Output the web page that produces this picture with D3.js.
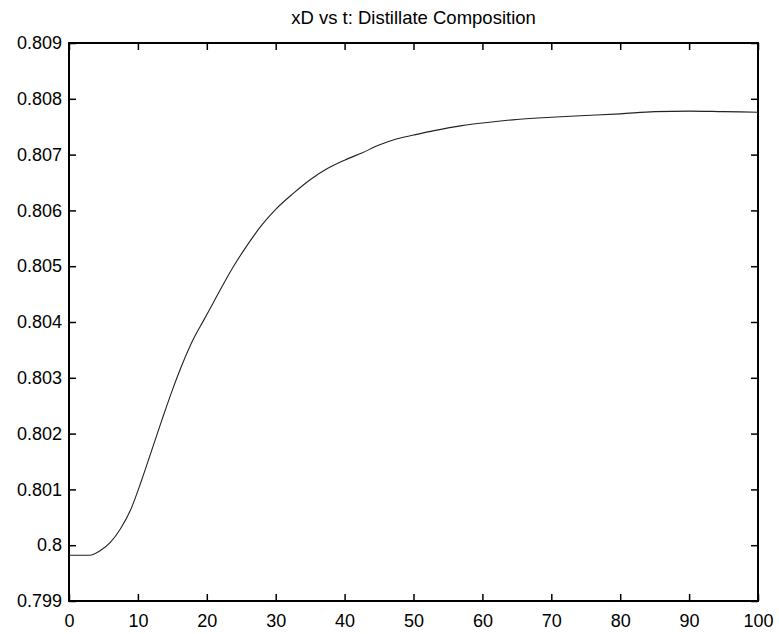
<!DOCTYPE html>
<html>
<head>
<meta charset="utf-8">
<script src="https://cdn.jsdelivr.net/npm/d3@7"></script>
<style>
  html, body { margin: 0; padding: 0; background: #fff; }
  svg { display: block; }
  text { font-family: "Liberation Sans", Arial, sans-serif; fill: #000; }
</style>
</head>
<body>
<svg id="chart" width="779" height="634"></svg>
<script>
// Time (t) samples and distillate composition xD
const tValues = [0, 3.0, 4.5, 6.0, 7.5, 9.0, 10.5, 12.0, 13.5, 15.0, 16.5, 18.0, 19.5, 21.0, 22.5, 24.0,
  26.0, 28.0, 30.0, 32.5, 35.0, 37.5, 40.0, 42.5, 45.0, 47.5, 50, 53, 57, 61, 65, 70, 75, 80, 85, 90, 95, 100];
const xDValues = [0.79982, 0.79982, 0.79990, 0.80005, 0.80030, 0.80065, 0.80115, 0.80170, 0.80225, 0.80278,
  0.80326, 0.80368, 0.80402, 0.80436, 0.80470, 0.80502, 0.80540, 0.80574, 0.80602, 0.80630, 0.80655,
  0.80675, 0.80690, 0.80703, 0.80717, 0.80728, 0.80735, 0.80743, 0.80752, 0.80758, 0.80763, 0.80767,
  0.80770, 0.80773, 0.80777, 0.80778, 0.80777, 0.80776];

const xTicks = [0, 10, 20, 30, 40, 50, 60, 70, 80, 90, 100];
const yTicks = [0.799, 0.8, 0.801, 0.802, 0.803, 0.804, 0.805, 0.806, 0.807, 0.808, 0.809];
const titleText = "xD vs t: Distillate Composition";

const svg = d3.select("#chart");
const plotLeft = 69, plotRight = 758, plotTop = 43, plotBottom = 601;

const x = d3.scaleLinear().domain([0, 100]).range([plotLeft, plotRight]);
const y = d3.scaleLinear().domain([0.799, 0.809]).range([plotBottom, plotTop]);

const fmt = d => String(+d.toFixed(3));

// Bottom axis with labels, ticks pointing inward
const gx = svg.append("g").attr("transform", `translate(0,${plotBottom})`)
  .call(d3.axisBottom(x).tickValues(xTicks).tickSizeInner(-7).tickSizeOuter(0).tickPadding(13).tickFormat(d3.format("d")));
// Left axis
const gy = svg.append("g").attr("transform", `translate(${plotLeft},0)`)
  .call(d3.axisLeft(y).tickValues(yTicks).tickSizeInner(-7).tickSizeOuter(0).tickPadding(7).tickFormat(fmt));
// Top and right axes, ticks only
const gt = svg.append("g").attr("transform", `translate(0,${plotTop})`)
  .call(d3.axisTop(x).tickValues(xTicks).tickSizeInner(-7).tickSizeOuter(0).tickFormat(""));
const gr = svg.append("g").attr("transform", `translate(${plotRight},0)`)
  .call(d3.axisRight(y).tickValues(yTicks).tickSizeInner(-7).tickSizeOuter(0).tickFormat(""));

[gx, gy, gt, gr].forEach(g => {
  g.select(".domain").remove();
  g.selectAll(".tick line").attr("stroke", "#000").attr("stroke-width", 1.5);
  g.selectAll("text").attr("font-size", 18).attr("font-family", "\"Liberation Sans\", Arial, sans-serif").attr("fill", "#000");
});

// Axes box
svg.append("rect")
  .attr("x", plotLeft).attr("y", plotTop)
  .attr("width", plotRight - plotLeft).attr("height", plotBottom - plotTop)
  .attr("fill", "none").attr("stroke", "#000").attr("stroke-width", 2);

// Composition curve
const line = d3.line()
  .x((d, i) => x(tValues[i]))
  .y(d => y(d))
  .curve(d3.curveMonotoneX);

svg.append("path")
  .datum(xDValues)
  .attr("d", line)
  .attr("fill", "none")
  .attr("stroke", "#222")
  .attr("stroke-width", 1.1);

// Title
svg.append("text")
  .attr("x", (plotLeft + plotRight) / 2)
  .attr("y", 24)
  .attr("text-anchor", "middle")
  .attr("font-size", 18.5)
  .text(titleText);
</script>
</body>
</html>
